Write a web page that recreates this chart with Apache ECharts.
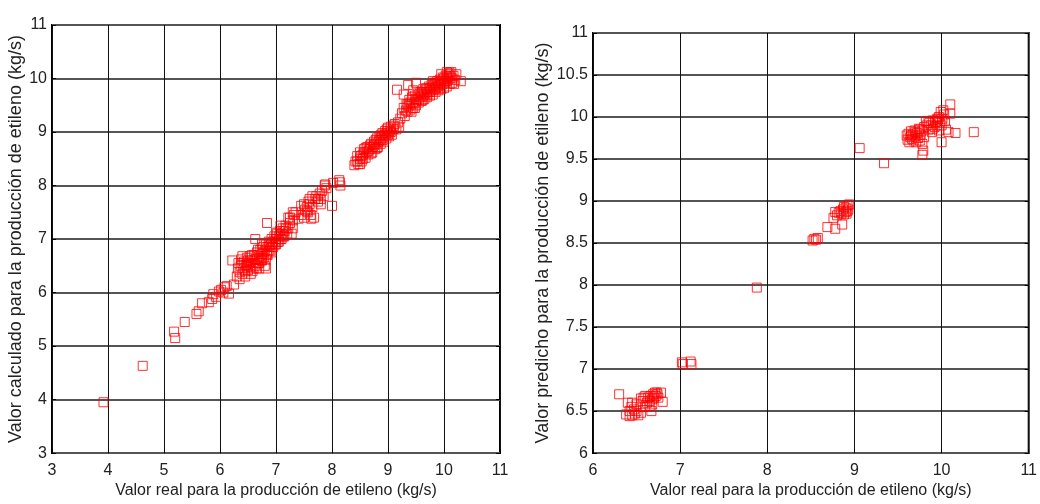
<!DOCTYPE html>
<html>
<head>
<meta charset="utf-8">
<script src="https://cdn.jsdelivr.net/npm/echarts@6/dist/echarts.min.js"></script>
<style>
html,body{margin:0;padding:0;background:#fff;}
#c{width:1040px;height:504px;}
</style>
</head>
<body>
<div id="c"></div>
<script>
// ---- Data ----
const xTitle = 'Valor real para la producción de etileno (kg/s)';
const leftYTitle = 'Valor calculado para la producción de etileno (kg/s)';
const rightYTitle = 'Valor predicho para la producción de etileno (kg/s)';

const leftAxisRange = [3, 11, 1];
const rightXRange = [6, 11, 1];
const rightYRange = [6, 11, 0.5];

// left panel: [real, calculado]
const leftPoints = [
 [3.92,3.95],[4.62,4.63],[5.18,5.27],[5.2,5.15],[5.37,5.45],[5.58,5.6],[5.62,5.65],[5.68,5.8],[5.8,5.82],[5.86,5.88],
 [5.88,5.97],[5.93,5.92],[5.98,6.02],[6.02,6.05],[6.06,6.0],[6.08,6.1],[6.12,6.12],[6.16,5.98],[6.25,6.15],[6.22,6.6],
 [6.3,6.3],[6.32,6.45],[6.33,6.55],[6.35,6.38],[6.37,6.5],[6.38,6.62],[6.4,6.35],[6.42,6.45],[6.43,6.58],[6.45,6.4],
 [6.46,6.52],[6.48,6.65],[6.5,6.42],[6.52,6.55],[6.53,6.68],[6.55,6.48],[6.56,6.6],[6.58,6.4],[6.6,6.55],[6.61,6.7],
 [6.63,6.5],[6.65,6.62],[6.66,6.75],[6.68,6.55],[6.7,6.68],[6.72,6.8],[6.73,6.6],[6.75,6.72],[6.77,6.85],[6.78,6.65],
 [6.8,6.78],[6.8,6.5],[6.82,6.9],[6.84,6.72],[6.85,6.85],[6.87,6.95],[6.88,6.8],[6.9,6.9],[6.92,7.0],[6.93,6.85],
 [6.95,6.95],[6.97,7.05],[6.98,6.9],[7.0,7.0],[7.02,7.1],[7.03,6.95],[7.05,7.05],[7.07,7.15],[7.08,7.0],[7.1,7.1],
 [7.12,7.2],[7.13,7.05],[7.15,7.15],[7.17,7.25],[7.2,7.1],[7.22,7.2],[7.25,7.3],[7.28,7.1],[7.3,7.2],
 [6.63,7.0],[6.84,7.3],[6.35,6.25],[6.4,6.55],[6.45,6.3],[6.5,6.6],[6.55,6.35],[6.6,6.45],[6.62,6.62],[6.65,6.45],
 [6.7,6.55],[6.72,6.65],[6.75,6.6],[6.78,6.75],[6.85,6.7],[6.88,6.88],[6.9,6.78],[6.95,6.85],[7.0,6.9],[7.0,7.12],
 [7.05,6.95],[7.1,7.0],[7.15,7.05],[7.18,7.2],[6.4,6.68],[6.48,6.5],[6.57,6.7],[6.68,6.8],[6.75,6.9],[6.82,6.62],
 [6.92,6.75],[7.08,7.25],[6.7,6.45],[6.82,6.45],
 [7.25,7.4],[7.3,7.35],[7.32,7.45],[7.3,7.5],[7.45,7.45],[7.5,7.4],[7.52,7.55],[7.55,7.6],[7.57,7.5],[7.58,7.7],
 [7.6,7.65],[7.62,7.45],[7.63,7.38],[7.65,7.6],[7.68,7.4],[7.7,7.75],[7.72,7.8],[7.75,7.7],[7.78,7.85],[7.8,7.75],
 [7.82,7.9],[7.85,7.8],[7.87,8.0],[7.9,7.95],[7.88,8.02],[8.0,7.62],[8.02,8.05],[8.14,8.06],[8.15,8.0],[8.13,8.1],
 [7.5,7.65],[7.55,7.52],[7.6,7.75],[7.65,7.8],[7.75,7.75],[7.8,7.65],[7.35,7.5],[7.4,7.38],[7.22,7.4],[7.45,7.62],
 [8.4,8.38],[8.42,8.45],[8.45,8.55],[8.47,8.4],[8.5,8.5],[8.5,8.62],[8.53,8.45],[8.55,8.58],[8.57,8.68],[8.6,8.52],
 [8.62,8.62],[8.63,8.72],[8.65,8.58],[8.67,8.68],[8.7,8.78],[8.72,8.62],[8.73,8.72],[8.75,8.82],[8.77,8.68],[8.78,8.78],
 [8.8,8.88],[8.82,8.72],[8.83,8.82],[8.85,8.92],[8.87,8.78],[8.88,8.88],[8.9,8.98],[8.92,8.82],[8.93,8.92],[8.95,9.02],
 [8.97,8.88],[8.98,8.98],[9.0,9.08],[9.02,8.92],[9.03,9.02],[9.05,9.1],[9.07,8.95],[9.1,9.05],[9.12,9.15],[9.15,9.05],
 [9.18,9.18],[9.2,9.1],[8.45,8.45],[8.55,8.5],[8.65,8.65],[8.75,8.75],[8.85,8.85],[8.95,8.95],[8.6,8.7],[8.7,8.6],
 [8.8,8.7],[8.9,8.85],[9.0,8.95],[9.05,9.0],[8.5,8.4],[8.52,8.55],[8.58,8.62],[8.68,8.75],[8.78,8.85],[8.88,8.95],
 [8.98,9.05],[9.1,9.12],
 [9.22,9.25],[9.25,9.35],[9.28,9.45],[9.3,9.3],[9.32,9.4],[9.33,9.52],[9.35,9.38],[9.37,9.48],[9.38,9.6],[9.4,9.42],
 [9.42,9.52],[9.43,9.65],[9.45,9.45],[9.47,9.55],[9.48,9.68],[9.5,9.5],[9.52,9.6],[9.53,9.72],[9.55,9.55],[9.57,9.65],
 [9.58,9.75],[9.6,9.58],[9.62,9.68],[9.63,9.8],[9.65,9.62],[9.67,9.72],[9.68,9.82],[9.7,9.65],[9.72,9.75],[9.73,9.85],
 [9.75,9.68],[9.77,9.78],[9.78,9.88],[9.8,9.7],[9.82,9.8],[9.83,9.92],[9.85,9.75],[9.87,9.85],[9.88,9.95],[9.9,9.78],
 [9.92,9.88],[9.93,9.98],[9.95,9.8],[9.97,9.9],[9.98,10.02],[10.0,9.82],[10.02,9.95],[10.03,10.05],[10.05,9.85],[10.07,9.98],
 [10.08,10.08],[10.1,9.9],[10.12,10.02],[10.13,10.12],[10.15,9.92],[10.17,10.05],[10.2,9.97],[10.3,9.95],[10.22,10.08],
 [9.16,9.79],[9.36,9.88],[9.5,9.92],[9.28,9.7],[9.45,9.78],
 [9.35,9.5],[9.4,9.55],[9.5,9.62],[9.55,9.7],[9.6,9.72],[9.65,9.75],[9.7,9.8],[9.75,9.82],[9.8,9.85],[9.85,9.9],
 [9.9,9.92],[9.95,9.95],[10.0,10.0],[10.05,10.02],[10.1,10.05],[9.7,9.7],[9.75,9.75],[9.85,9.82],[9.9,9.85],[10.0,9.92],
 [10.05,9.95],[10.1,10.1],[10.15,10.0],[9.95,10.08],[10.05,10.12],[9.8,9.95],[9.62,9.6],[9.42,9.38],[9.48,9.45],[10.18,9.9]
];

// right panel: [real, predicho]
const rightPoints = [
 [6.3,6.7],[6.4,6.6],[6.38,6.46],[6.42,6.5],[6.44,6.55],[6.45,6.45],[6.47,6.52],[6.48,6.47],[6.5,6.5],[6.5,6.58],
 [6.52,6.45],[6.55,6.48],[6.55,6.65],[6.57,6.62],[6.6,6.55],[6.62,6.6],[6.63,6.66],[6.65,6.62],[6.66,6.68],[6.67,6.5],
 [6.68,6.64],[6.69,6.7],[6.7,6.66],[6.71,6.72],[6.72,6.68],[6.73,6.72],[6.74,6.7],[6.75,6.66],[6.78,6.72],[6.8,6.61],
 [6.6,6.68],[6.65,6.56],[6.68,6.58],[6.45,6.6],[6.42,6.44],[6.58,6.66],
 [7.02,7.08],[7.03,7.06],[7.12,7.09],[7.13,7.06],[7.88,7.97],
 [8.52,8.53],[8.54,8.55],[8.56,8.54],[8.58,8.56],[8.69,8.69],[8.78,8.67],[8.76,8.8],[8.78,8.87],[8.8,8.83],[8.82,8.86],
 [8.84,8.88],[8.86,8.72],[8.85,8.85],[8.87,8.9],[8.88,8.84],[8.9,8.92],[8.9,8.87],[8.92,8.95],[8.92,8.88],[8.93,8.9],
 [8.94,8.96],[8.88,8.93],[8.91,8.85],
 [9.06,9.63],[9.34,9.45],
 [9.6,9.78],[9.61,9.73],[9.62,9.8],[9.63,9.7],[9.64,9.76],[9.65,9.83],[9.66,9.74],[9.67,9.79],[9.68,9.72],[9.69,9.84],
 [9.7,9.77],[9.71,9.7],[9.72,9.81],[9.73,9.75],[9.74,9.86],[9.75,9.72],[9.76,9.79],[9.77,9.83],[9.78,9.68],[9.78,9.55],
 [9.79,9.6],[9.8,9.76],[9.8,9.88],[9.82,9.95],[9.83,9.9],[9.85,9.85],[9.86,9.93],[9.88,9.9],[9.89,9.82],[9.9,9.96],
 [9.92,9.88],[9.93,9.94],[9.95,9.9],[9.96,9.97],[9.97,9.84],[9.98,9.93],[9.99,10.06],[10.0,9.7],[10.0,9.9],[10.01,9.98],
 [10.02,10.08],[10.03,10.03],[10.04,9.95],[10.05,9.85],[10.08,9.82],[10.1,10.15],[10.1,10.04],[10.16,9.81],[10.37,9.82],[9.7,9.82],
 [9.65,9.78],[9.75,9.85],[9.85,9.95],[9.9,9.86],[9.95,9.98],[9.97,10.0]
];

// ---- Styling ----
const FONT = '"Liberation Sans", Arial, sans-serif';
const tickColor = '#222';
const labelStyle = {color: tickColor, fontFamily: FONT, fontSize: 16};
const xNameStyle = {color: tickColor, fontFamily: FONT, fontSize: 16};
const yNameStyle = {color: tickColor, fontFamily: FONT, fontSize: 18};

function mkX(gridIndex, r, withLabel, pos, nameGap, name) {
  return {
    type: 'value', gridIndex, min: r[0], max: r[1], interval: r[2], position: pos,
    name: name || '', nameLocation: 'middle', nameGap: nameGap || 0, nameTextStyle: xNameStyle,
    axisLine: {show: false},
    axisTick: {show: true, inside: true, length: 4, lineStyle: {color: '#000'}},
    axisLabel: {show: withLabel, margin: 9, ...labelStyle},
    splitLine: {show: withLabel, lineStyle: {color: '#111', width: 1}}
  };
}
function mkY(gridIndex, r, withLabel, pos, nameGap, name) {
  return {
    type: 'value', gridIndex, min: r[0], max: r[1], interval: r[2], position: pos,
    name: name || '', nameLocation: 'middle', nameGap: nameGap || 0, nameTextStyle: yNameStyle,
    axisLine: {show: false},
    axisTick: {show: true, inside: true, length: 4, lineStyle: {color: '#000'}},
    axisLabel: {show: withLabel, margin: 5, ...labelStyle},
    splitLine: {show: withLabel, lineStyle: {color: '#555', width: 2}}
  };
}

const chart = echarts.init(document.getElementById('c'), null, {renderer: 'canvas'});
const markerStyle = {color: 'rgba(0,0,0,0)', borderColor: '#ff0000', borderWidth: 1};
chart.setOption({
  animation: false,
  backgroundColor: '#fff',
  grid: [
    {left: 52, top: 25, width: 448, height: 430, show: true, borderColor: '#000', borderWidth: 2, backgroundColor: 'transparent'},
    {left: 593, top: 33, width: 440, height: 423, show: true, borderColor: '#000', borderWidth: 2, backgroundColor: 'transparent'}
  ],
  xAxis: [
    mkX(0, leftAxisRange, true, 'bottom', 29, xTitle),
    mkX(0, leftAxisRange, false, 'top'),
    mkX(1, rightXRange, true, 'bottom', 29, xTitle),
    mkX(1, rightXRange, false, 'top')
  ],
  yAxis: [
    mkY(0, leftAxisRange, true, 'left', 26, leftYTitle),
    mkY(0, leftAxisRange, false, 'right'),
    mkY(1, rightYRange, true, 'left', 41, rightYTitle),
    mkY(1, rightYRange, false, 'right')
  ],
  series: [
    {type: 'scatter', xAxisIndex: 0, yAxisIndex: 0, data: leftPoints, symbol: 'rect', symbolSize: 9, itemStyle: markerStyle},
    {type: 'scatter', xAxisIndex: 2, yAxisIndex: 2, data: rightPoints, symbol: 'rect', symbolSize: 9, itemStyle: markerStyle}
  ]
});
</script>
</body>
</html>
